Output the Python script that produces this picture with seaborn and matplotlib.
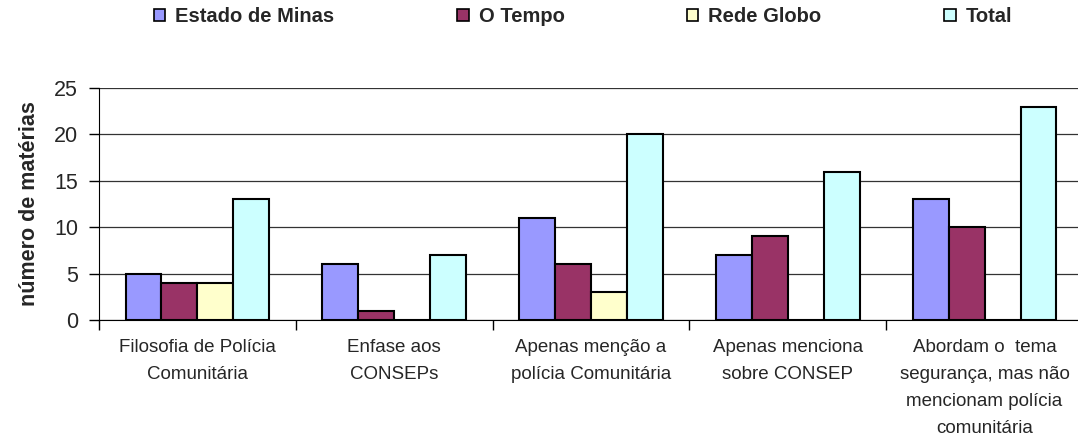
import pandas as pd
import matplotlib.pyplot as plt
import seaborn as sns

categories = ["Filosofia de Polícia\nComunitária",
              "Enfase aos\nCONSEPs",
              "Apenas menção a\npolícia Comunitária",
              "Apenas menciona\nsobre CONSEP",
              "Abordam o  tema\nsegurança, mas não\nmencionam polícia\ncomunitária"]
series = ["Estado de Minas", "O Tempo", "Rede Globo", "Total"]
estado_de_minas = [5, 6, 11, 7, 13]
o_tempo = [4, 1, 6, 9, 10]
rede_globo = [4, 0, 3, 0, 0]
total = [13, 7, 20, 16, 23]
colors = ["#9999FF", "#993366", "#FFFFCC", "#CCFFFF"]

rows = []
for name, vals in zip(series, [estado_de_minas, o_tempo, rede_globo, total]):
    for cat, v in zip(categories, vals):
        rows.append({"categoria": cat, "serie": name, "valor": v})
df = pd.DataFrame(rows)

sns.set_style("white")
plt.rcParams['font.family'] = ['Liberation Sans', 'DejaVu Sans']

fig = plt.figure(figsize=(10.78, 4.43), dpi=100)
ax = fig.add_axes([99 / 1078, 123 / 443, 984 / 1078, 232 / 443])

sns.barplot(data=df, x="categoria", y="valor", hue="serie", palette=colors,
            saturation=1, width=0.73, edgecolor="black", linewidth=1.5,
            ax=ax, legend=False)

ax.set_ylim(0, 25)
ax.set_xlim(-0.5, 4.5)
ax.set_yticks([0, 5, 10, 15, 20, 25])
ax.yaxis.grid(True, color="#333333", linewidth=0.9)
ax.set_axisbelow(True)
for s in ["top", "right"]:
    ax.spines[s].set_visible(False)
ax.spines["left"].set_color("black")
ax.spines["bottom"].set_color("black")
ax.tick_params(axis="y", length=7, width=1, color="black", labelsize=15.5, pad=8, left=True)
ax.tick_params(axis="x", which="major", length=0, labelsize=13.5, pad=14)
ax.set_xticks([-0.5, 0.5, 1.5, 2.5, 3.5], minor=True)
ax.tick_params(axis="x", which="minor", length=7, width=1, color="black", bottom=True)
for lbl in ax.get_xticklabels():
    lbl.set_linespacing(1.75)
ax.set_xlabel("")
ax.set_ylabel("número de matérias", fontsize=15.5, fontweight="bold", labelpad=10)

handles = [plt.Rectangle((0, 0), 1, 1, facecolor=c, edgecolor="black", linewidth=1.2) for c in colors]
fig.legend(handles, series, loc="center", bbox_to_anchor=(0.541, 1 - 17 / 443), ncol=4,
           frameon=False, handlelength=0.55, handleheight=0.55, handletextpad=0.5,
           columnspacing=6.1, prop={"size": 14.5, "weight": "bold"})

fig.savefig("out.png", dpi=100)
